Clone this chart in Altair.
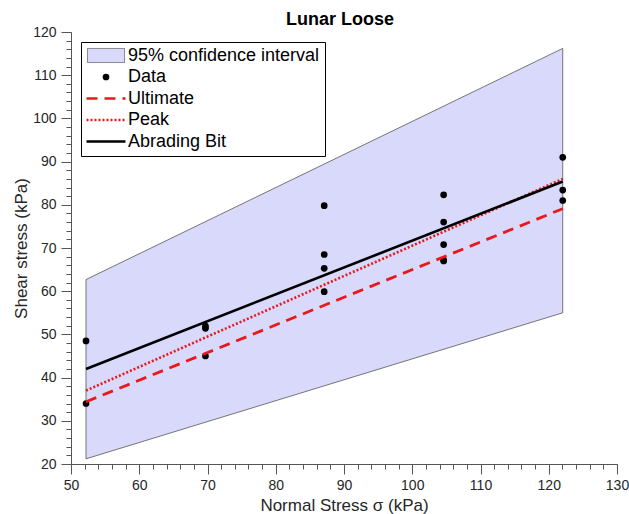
import altair as alt
import pandas as pd

# ---------------- data ----------------
series_names = ["95% confidence interval", "Data", "Ultimate", "Peak", "Abrading Bit"]

data_sigma = [52.2, 52.2, 69.7, 69.7, 69.7, 87.1, 87.1, 87.1, 87.1,
              104.6, 104.6, 104.6, 104.6, 104.6, 122.05, 122.05, 122.05]
data_tau = [48.5, 34.0, 51.9, 51.4, 45.0, 79.8, 68.5, 65.3, 59.9,
            82.3, 76.0, 70.8, 67.2, 67.0, 91.0, 83.4, 81.0]

ci_sigma = [52.2, 122.05]
ci_upper = [62.7, 116.2]
ci_lower = [21.2, 55.0]

fit_sigma = [52.2, 122.05]
ultimate_tau = [34.4, 79.1]
peak_tau = [37.0, 86.0]
abrading_tau = [42.0, 85.4]

x_major = list(range(50, 131, 10))
x_minor = list(range(50, 131, 2))
y_major = list(range(20, 121, 10))
y_minor = list(range(20, 121, 2))

# ---------------- styles ----------------
FONT = "Liberation Sans"
AXC = "#555555"
TXT = "#262626"
LAV = "#d9d9fb"
RED = "#e8191b"

legend_fill = [LAV, "#000000", "transparent", "transparent", "transparent"]
legend_stroke = ["#555555", "transparent", RED, RED, "#000000"]
legend_shape = ["M-0.95,-0.36H0.95V0.36H-0.95Z", "circle", "M-1,0H1", "M-1,0H1", "M-1,0H1"]
legend_size = [1521, 45, 1521, 1521, 1521]
legend_dash = [[1, 0], [1, 0], [11, 7], [2, 2], [1, 0]]
legend_width = [0.8, 0, 2.6, 2.6, 2.6]

# ---------------- frames ----------------
df_pts = pd.DataFrame({"sigma": data_sigma, "tau": data_tau, "series": "Data"})
df_ci = pd.DataFrame({"sigma": ci_sigma, "upper": ci_upper, "lower": ci_lower})
df_ult = pd.DataFrame({"sigma": fit_sigma, "tau": ultimate_tau})
df_peak = pd.DataFrame({"sigma": fit_sigma, "tau": peak_tau})
df_abr = pd.DataFrame({"sigma": fit_sigma, "tau": abrading_tau})

xscale = alt.Scale(domain=[50, 130], nice=False, zero=False)
yscale = alt.Scale(domain=[20, 120], nice=False, zero=False)

x_major_axis = alt.Axis(
    orient="bottom", values=x_major, tickSize=10, labelPadding=4,
    labelOverlap=False, labelFlush=False, grid=False,
    domainColor=AXC, tickColor=AXC, domainWidth=1, tickWidth=1,
    labelColor=TXT, labelFontSize=14, labelFont=FONT,
    title="Normal Stress σ (kPa)", titleFont=FONT, titleFontSize=17,
    titleFontWeight="normal", titleColor=TXT, titlePadding=5,
)
y_major_axis = alt.Axis(
    orient="left", values=y_major, tickSize=10, labelPadding=5,
    labelOverlap=False, labelFlush=False, grid=False,
    domainColor=AXC, tickColor=AXC, domainWidth=1, tickWidth=1,
    labelColor=TXT, labelFontSize=14, labelFont=FONT,
    title="Shear stress (kPa)", titleFont=FONT, titleFontSize=17,
    titleFontWeight="normal", titleColor=TXT, titlePadding=2,
)
x_minor_axis = alt.Axis(orient="bottom", values=x_minor, tickSize=5, labels=False,
                        domain=False, grid=False, title=None, tickColor=AXC, tickWidth=1)
y_minor_axis = alt.Axis(orient="left", values=y_minor, tickSize=5, labels=False,
                        domain=False, grid=False, title=None, tickColor=AXC, tickWidth=1)

legend = alt.Legend(
    title=None, orient="none", legendX=10, legendY=10, columns=1,
    fillColor="white", strokeColor="black", padding=5,
    labelFont=FONT, labelFontSize=18, labelColor="black", labelOffset=1,
    labelLimit=400, clipHeight=17, rowPadding=2.5, symbolOffset=-1,
)

def ser_scale(rng, typ=None):
    if typ:
        return alt.Scale(type=typ, domain=series_names, range=rng)
    return alt.Scale(domain=series_names, range=rng)

band = alt.Chart(df_ci).mark_area(
    color=LAV, opacity=1, stroke="#555555", strokeWidth=0.8
).encode(
    x=alt.X("sigma:Q", scale=xscale, axis=x_minor_axis),
    y=alt.Y("upper:Q", scale=yscale, axis=y_minor_axis),
    y2="lower:Q",
)

pts = alt.Chart(df_pts).mark_point(opacity=1, filled=False).encode(
    x=alt.X("sigma:Q", scale=xscale, axis=x_major_axis),
    y=alt.Y("tau:Q", scale=yscale, axis=y_major_axis),
    fill=alt.Fill("series:N", scale=ser_scale(legend_fill), legend=legend),
    stroke=alt.Stroke("series:N", scale=ser_scale(legend_stroke), legend=legend),
    shape=alt.Shape("series:N", scale=ser_scale(legend_shape), legend=legend),
    size=alt.Size("series:N", scale=ser_scale(legend_size, "ordinal"), legend=legend),
    strokeDash=alt.StrokeDash("series:N", scale=ser_scale(legend_dash), legend=legend),
    strokeWidth=alt.StrokeWidth("series:N", scale=ser_scale(legend_width, "ordinal"), legend=legend),
)

def fit_line(df, color, width, dash=None):
    kw = dict(color=color, strokeWidth=width)
    if dash:
        kw["strokeDash"] = dash
    return alt.Chart(df).mark_line(**kw).encode(
        x=alt.X("sigma:Q", scale=xscale, axis=None),
        y=alt.Y("tau:Q", scale=yscale, axis=None),
    )

ult = fit_line(df_ult, RED, 2.8, [11, 7])
peak = fit_line(df_peak, RED, 2.6, [2, 2])
abr = fit_line(df_abr, "#000000", 2.6)

chart = alt.layer(band, pts, ult, peak, abr).resolve_axis(
    x="independent", y="independent"
).properties(
    width=546, height=432,
    title=alt.Title("Lunar Loose", font=FONT, fontSize=18, fontWeight="bold",
                    color="black", offset=7, dx=-4, dy=11),
    padding={"left": 71, "top": 32, "right": 12, "bottom": 50},
    autosize=alt.AutoSizeParams(type="none"),
    background="white",
).configure_view(stroke=None)

chart.save("out.html", embed_options={"renderer": "svg", "actions": False})
